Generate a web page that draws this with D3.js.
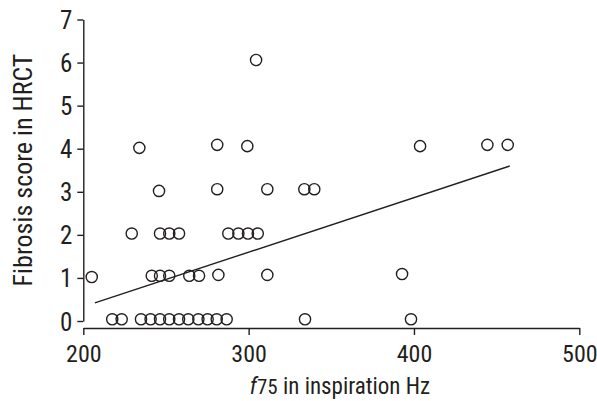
<!DOCTYPE html>
<html><head><meta charset="utf-8">
<script src="https://cdn.jsdelivr.net/npm/d3@7"></script>
<style>
html,body{margin:0;padding:0;background:#fff;}
svg text{font-family:"Liberation Sans Narrow","Arial Narrow","Roboto Condensed","Liberation Sans",Arial,sans-serif;fill:#231f20;}
</style></head>
<body><svg id="c" width="597" height="401"></svg>
<script>
// f75 in inspiration (Hz) vs fibrosis score
const pointsX = [217.5,223.2,234.9,240.7,246.4,252.0,257.9,263.5,269.6,275.2,280.7,286.7,334.1,398.2,
                 205.1,241.4,246.4,252.0,264.1,270.0,281.7,311.3,392.8,
                 229.3,246.4,252.0,257.9,287.7,293.8,299.6,305.5,
                 245.8,281.0,311.3,333.7,339.7,
                 233.9,281.0,299.2,403.7,444.4,456.7,
                 304.5];
const pointsY = [0.04,0.04,0.04,0.04,0.04,0.04,0.04,0.04,0.04,0.04,0.04,0.04,0.04,0.04,
                 1.02,1.05,1.05,1.05,1.05,1.05,1.07,1.07,1.09,
                 2.03,2.03,2.03,2.03,2.03,2.03,2.03,2.03,
                 3.02,3.06,3.06,3.06,3.06,
                 4.02,4.09,4.06,4.06,4.09,4.09,
                 6.06];
const fitX = [207, 458];
const fitY = [0.42, 3.6];
const xTicks = [200,300,400,500];
const yTicks = [0,1,2,3,4,5,6,7];

const svg = d3.select("#c");
const x = d3.scaleLinear().domain([200,500]).range([83.3,579.3]);
const y = d3.scaleLinear().domain([0,7]).range([321,19.5]);
const ink = "#231f20";

// y axis
const ya = svg.append("g").attr("transform","translate(83.3,0)")
  .call(d3.axisLeft(y).tickValues(yTicks).tickFormat(d3.format("d")).tickSize(6).tickSizeOuter(0).tickPadding(5));
ya.select(".domain").attr("stroke",ink).attr("stroke-width",1.4);
ya.selectAll(".tick line").attr("stroke",ink).attr("stroke-width",1.4);
ya.selectAll(".tick text").attr("font-size",25).attr("dy","0.36em").attr("fill",ink);

// x axis
const xa = svg.append("g").attr("transform","translate(0,328)")
  .call(d3.axisBottom(x).tickValues(xTicks).tickFormat(d3.format("d")).tickSize(7).tickSizeOuter(0).tickPadding(10));
xa.select(".domain").attr("stroke",ink).attr("stroke-width",1.4);
xa.selectAll(".tick line").attr("stroke",ink).attr("stroke-width",1.4);
xa.selectAll(".tick text").attr("font-size",24).attr("dy","0.71em").attr("fill",ink);

// fit line
svg.append("line")
  .attr("x1",x(fitX[0])).attr("y1",y(fitY[0]))
  .attr("x2",x(fitX[1])).attr("y2",y(fitY[1]))
  .attr("stroke",ink).attr("stroke-width",1.4);

// points
svg.append("g").selectAll("circle").data(pointsX).join("circle")
  .attr("cx",d=>x(d)).attr("cy",(d,i)=>y(pointsY[i])).attr("r",5.6)
  .attr("fill","none").attr("stroke",ink).attr("stroke-width",1.4);

// axis titles
const xt = svg.append("text").attr("x",340).attr("y",394).attr("text-anchor","middle").attr("font-size",23);
xt.append("tspan").attr("font-style","italic").text("f");
xt.append("tspan").attr("font-size",21).text("75");
xt.append("tspan").text(" in inspiration Hz");

svg.append("text").attr("transform","translate(32,170) rotate(-90)")
  .attr("text-anchor","middle").attr("font-size",26).text("Fibrosis score in HRCT");
</script></body></html>
